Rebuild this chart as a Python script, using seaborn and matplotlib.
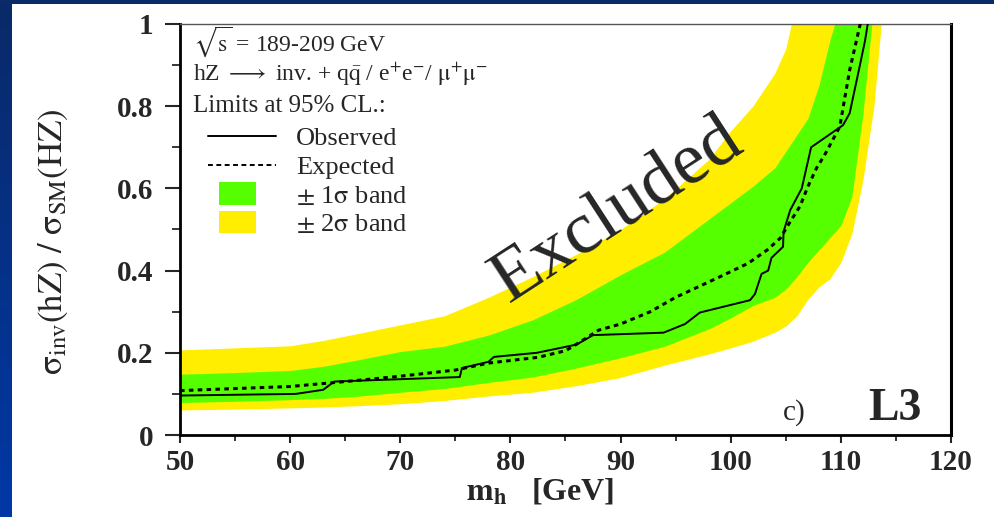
import numpy as np
import pandas as pd
import matplotlib
matplotlib.use("Agg")
import matplotlib.pyplot as plt
import seaborn as sns
from matplotlib.lines import Line2D
from matplotlib.patches import Patch, Rectangle
from matplotlib.legend_handler import HandlerPatch
from matplotlib.ticker import MultipleLocator, FixedLocator, FixedFormatter

# ---------------- data ----------------
band_mh = [50, 55, 60, 63, 66, 70, 74, 78, 82, 86, 90, 94, 98, 100, 102,
           104, 105, 106, 107, 108, 109, 110, 111, 112, 113, 114]
sig2_up = [0.207, 0.212, 0.217, 0.230, 0.246, 0.268, 0.290, 0.335, 0.385, 0.440,
           0.500, 0.575, 0.670, 0.740, 0.800, 0.880, 0.940, 1.060, 1.10, 1.10,
           1.10, 1.10, 1.10, 1.10, 1.10, 1.10]
sig1_up = [0.148, 0.152, 0.157, 0.167, 0.182, 0.203, 0.216, 0.243, 0.280, 0.330,
           0.390, 0.445, 0.525, 0.565, 0.605, 0.650, 0.690, 0.730, 0.770, 0.850,
           0.960, 1.050, 1.10, 1.10, 1.10, 1.10]
sig1_dn = [0.079, 0.082, 0.086, 0.089, 0.094, 0.104, 0.113, 0.128, 0.141, 0.163,
           0.188, 0.216, 0.258, 0.285, 0.315, 0.335, 0.355, 0.385, 0.420, 0.450,
           0.480, 0.510, 0.580, 0.780, 1.050, 1.10]
sig2_dn = [0.061, 0.063, 0.066, 0.068, 0.071, 0.076, 0.084, 0.095, 0.104, 0.120,
           0.140, 0.170, 0.197, 0.212, 0.228, 0.250, 0.265, 0.290, 0.330, 0.360,
           0.380, 0.420, 0.490, 0.620, 0.800, 1.10]

exp_mh = [50, 55, 60, 65, 70, 75, 78, 82.5, 85, 86, 88, 90, 92.7, 95, 98.7,
          101.6, 103.3, 104.5, 105.4, 106.3, 107, 107.8, 108.5, 109.9, 110.8, 111.7, 111.9]
exp_val = [0.108, 0.113, 0.118, 0.130, 0.143, 0.158, 0.175, 0.189, 0.205, 0.221,
           0.255, 0.270, 0.300, 0.335, 0.381, 0.418, 0.450, 0.479, 0.519, 0.557,
           0.604, 0.650, 0.680, 0.750, 0.888, 0.993, 1.02]

obs_mh = [50, 60.5, 63, 64, 75.4, 75.6, 78, 78.5, 82.4, 86.0, 87.5, 93.9, 95.85,
          97.2, 101.75, 102.2, 102.8, 103.4, 103.7, 104.75, 104.8, 105.4, 106.45,
          107.3, 110.2, 110.8, 111.7, 112.2, 112.5]
obs_val = [0.096, 0.100, 0.110, 0.130, 0.141, 0.163, 0.178, 0.190, 0.200, 0.220,
           0.243, 0.249, 0.270, 0.298, 0.328, 0.343, 0.392, 0.400, 0.431, 0.458,
           0.495, 0.547, 0.600, 0.700, 0.754, 0.783, 0.896, 0.960, 1.010]

x_ticks = [50, 60, 70, 80, 90, 100, 110, 120]
y_ticks = [0, 0.2, 0.4, 0.6, 0.8, 1.0]
y_tick_labels = ["0", "0.2", "0.4", "0.6", "0.8", "1"]

GREEN = "#55ff00"
YELLOW = "#ffee00"

# ---------------- style ----------------
sns.set_theme(style="ticks")
plt.rcParams["font.family"] = ["Liberation Serif", "DejaVu Serif"]
plt.rcParams["mathtext.fontset"] = "stix"

fig = plt.figure(figsize=(9.94, 5.17), dpi=100)
fig.patch.set_facecolor("white")

# slide background strips (blue gradient)
axl = fig.add_axes([0, 0, 12 / 994, 1])
grad = np.linspace(0, 1, 256).reshape(-1, 1)
cmap = matplotlib.colors.LinearSegmentedColormap.from_list("bl", ["#0a2a68", "#0038a6"])
axl.imshow(grad, aspect="auto", cmap=cmap, extent=[0, 1, 1, 0])
axl.set_axis_off()
axt = fig.add_axes([0, 1 - 4 / 517, 1, 4 / 517])
axt.set_facecolor("#0a2a68")
axt.set_xticks([]); axt.set_yticks([])
for s in axt.spines.values():
    s.set_visible(False)

ax = fig.add_axes([180 / 994, 1 - 435 / 517, 771 / 994, 411 / 517])
ax.set_facecolor("white")

# bands
ax.fill_between(band_mh, sig2_dn, sig2_up, color=YELLOW, lw=0, zorder=1)
ax.fill_between(band_mh, sig1_dn, sig1_up, color=GREEN, lw=0, zorder=2)

df_exp = pd.DataFrame({"mh": exp_mh, "lim": exp_val})
df_obs = pd.DataFrame({"mh": obs_mh, "lim": obs_val})
sns.lineplot(data=df_exp, x="mh", y="lim", sort=False, estimator=None, ax=ax,
             color="black", lw=2.2, dashes=False, zorder=4)
ax.lines[-1].set_dashes((1.5, 1.4))
sns.lineplot(data=df_obs, x="mh", y="lim", sort=False, estimator=None, ax=ax,
             color="black", lw=1.4, zorder=5)

ax.set_xlim(50, 120)
ax.set_ylim(0, 1)

# spines
for side in ["left", "bottom"]:
    ax.spines[side].set_linewidth(2.0)
    ax.spines[side].set_color("black")
ax.spines["right"].set_linewidth(2.2)
ax.spines["right"].set_color("black")
ax.spines["top"].set_linewidth(1.0)
ax.spines["top"].set_color("#555555")

ax.xaxis.set_major_locator(FixedLocator(x_ticks))
ax.xaxis.set_minor_locator(MultipleLocator(5))
ax.yaxis.set_major_locator(FixedLocator(y_ticks))
ax.yaxis.set_major_formatter(FixedFormatter(y_tick_labels))
ax.yaxis.set_minor_locator(MultipleLocator(0.1))

ax.tick_params(axis="y", which="major", direction="out", length=11, width=1.5,
               pad=8, labelsize=21, left=True, right=False)
ax.tick_params(axis="y", which="minor", direction="out", length=6, width=1.3,
               left=True, right=False)
ax.tick_params(axis="x", which="major", direction="out", length=6, width=1.5,
               pad=4, labelsize=21, bottom=True, top=False)
ax.tick_params(axis="x", which="minor", direction="out", length=4, width=1.3,
               bottom=True, top=False)
for lab in ax.get_xticklabels() + ax.get_yticklabels():
    lab.set_fontweight("bold")

ax.set_xlabel(r"$\mathbf{m_h}$   [GeV]", fontsize=23, fontweight="bold")
ax.xaxis.set_label_coords(0.467, -0.10)
ax.set_ylabel(r"$\mathrm{\sigma_{inv}(hZ)\ /\ \sigma_{SM}(HZ)}$", fontsize=25)
ax.yaxis.set_label_coords(-0.143, 0.47)

# annotations
ax.text(0.017, 0.957, r"$\sqrt{\mathrm{s}}$ = 189-209 GeV", transform=ax.transAxes,
        fontsize=17, va="center", ha="left")
ax.text(0.017, 0.877,
        r"hZ $\longrightarrow$ inv. + q$\bar{\mathrm{q}}$ / e$^{+}$e$^{-}$/ $\mathrm{\mu^{+}\mu^{-}}$",
        transform=ax.transAxes, fontsize=17, va="center", ha="left")
ax.text(0.017, 0.801, "Limits at 95% CL.:", transform=ax.transAxes,
        fontsize=18, va="center", ha="left")

ax.text(89.7, 0.545, "Excluded", rotation=33, rotation_mode="anchor",
        fontsize=54, ha="center", va="center", zorder=6)
ax.text(105.8, 0.055, "c)", fontsize=21, ha="center", va="center")
ax.text(114.9, 0.063, "L3", fontsize=33, fontweight="bold", ha="center", va="center")


def small_patch(legend, orig_handle, xdescent, ydescent, width, height, fontsize):
    return Rectangle((-xdescent + 0.17 * width, -ydescent - 0.1 * height),
                     0.54 * width, 1.2 * height)


handles = [
    Line2D([], [], color="black", lw=1.4),
    Line2D([], [], color="black", lw=1.4, dashes=(2.5, 1.8)),
    Patch(facecolor=GREEN, edgecolor="none"),
    Patch(facecolor=YELLOW, edgecolor="none"),
]
labels = ["Observed", "Expected", r"$\pm$ 1$\mathrm{\sigma}$ band", r"$\pm$ 2$\mathrm{\sigma}$ band"]
leg = ax.legend(handles, labels, loc="upper left", bbox_to_anchor=(0.036, 0.75),
                frameon=False, fontsize=19, handlelength=2.6, handletextpad=0.75,
                borderpad=0, borderaxespad=0, labelspacing=0.2,
                handler_map={Patch: HandlerPatch(patch_func=small_patch)})
leg.set_zorder(7)

fig.savefig("out.png", dpi=100)
